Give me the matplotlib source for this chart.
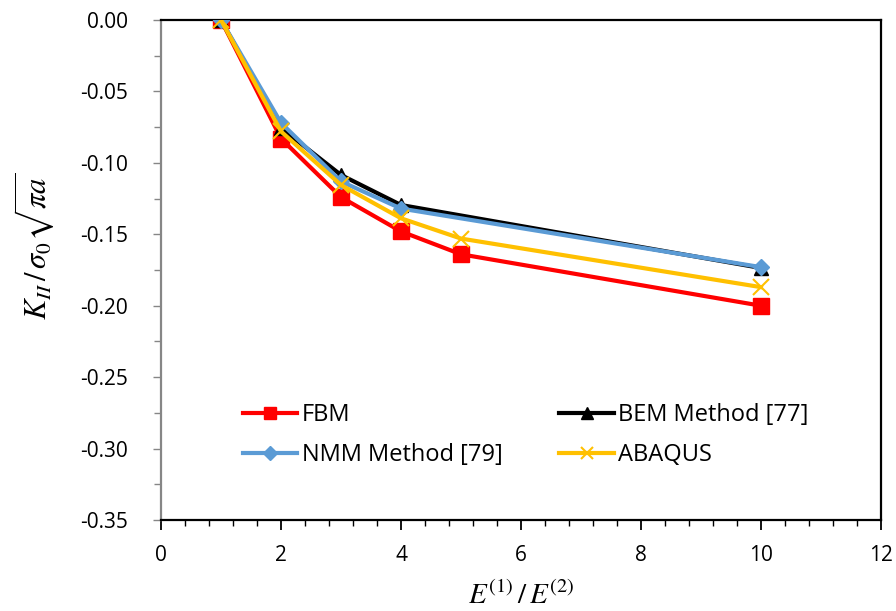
import matplotlib
matplotlib.use("Agg")
import matplotlib.pyplot as plt
from matplotlib.ticker import MultipleLocator, FormatStrFormatter

plt.rcParams['mathtext.fontset'] = 'stix'
plt.rcParams['font.family'] = ['Open Sans', 'DejaVu Sans']

x_fbm = [1, 2, 3, 4, 5, 10]
y_fbm = [0.0, -0.083, -0.124, -0.148, -0.164, -0.200]
x_bem = [1, 2, 3, 4, 10]
y_bem = [0.0, -0.0756, -0.1085, -0.1295, -0.1736]
x_nmm = [1, 2, 3, 4, 10]
y_nmm = [0.0, -0.072, -0.113, -0.132, -0.173]
x_aba = [1, 2, 3, 4, 5, 10]
y_aba = [0.0, -0.078, -0.1155, -0.1388, -0.153, -0.187]

W, H = 896, 611
fig = plt.figure(figsize=(W/100, H/100), dpi=100)
ax = fig.add_axes([161/W, 1-520/H, (881-161)/W, 500/H])

lw = 3.0
l1, = ax.plot(x_fbm, y_fbm, color='#FF0000', lw=lw, marker='s', ms=11, label='FBM', zorder=3)
l2, = ax.plot(x_bem, y_bem, color='#000000', lw=lw, marker='^', ms=10, label='BEM Method [77]', zorder=4)
l3, = ax.plot(x_nmm, y_nmm, color='#5B9BD5', lw=lw, marker='D', ms=8.5, label='NMM Method [79]', zorder=5)
l4, = ax.plot(x_aba, y_aba, color='#FFC000', lw=lw, marker='x', ms=11, mew=1.5, label='ABAQUS', zorder=6)

ax.set_xlim(0, 12)
ax.set_ylim(-0.35, 0.0)
ax.xaxis.set_major_locator(MultipleLocator(2))
ax.xaxis.set_minor_locator(MultipleLocator(0.4))
ax.yaxis.set_major_locator(MultipleLocator(0.05))
ax.yaxis.set_minor_locator(MultipleLocator(0.025))
ax.yaxis.set_major_formatter(FormatStrFormatter('%.2f'))

ax.tick_params(axis='y', which='major', labelsize=15, direction='out', length=6, width=1,
               color='#868686', pad=18)
ax.tick_params(axis='y', which='minor', direction='out', length=5, width=1, color='#868686')
ax.tick_params(axis='x', which='major', labelsize=15, direction='out', length=7, width=1.3,
               color='black', pad=11)
ax.tick_params(axis='x', which='minor', direction='out', length=4, width=1, color='black')

for s in ['top', 'right', 'bottom']:
    ax.spines[s].set_color('black')
    ax.spines[s].set_linewidth(1.6)
ax.spines['left'].set_color('#868686')
ax.spines['left'].set_linewidth(1.6)

ax.set_xlabel(r'$E^{(1)}\,/\,E^{(2)}$', fontsize=21)
ax.xaxis.label.set_verticalalignment('center')
ax.xaxis.set_label_coords(0.5, -(596-520)/500)
ax.set_ylabel(r'$K_{II}\,/\,\sigma_0\sqrt{\pi a}$', fontsize=22)
ax.yaxis.label.set_verticalalignment('center')
ax.yaxis.set_label_coords((34-161)/720, 1-(246-20)/500)

leg = ax.legend(handles=[l1, l3, l2, l4], ncol=2, frameon=False, fontsize=17,
                loc='upper left', bbox_to_anchor=(243/W, 1-403/H),
                bbox_transform=fig.transFigure, borderpad=0, borderaxespad=0,
                handlelength=2.3, handletextpad=0.2, columnspacing=2.4,
                labelspacing=0.68, markerscale=0.85)

fig.savefig('out.png', dpi=100)
